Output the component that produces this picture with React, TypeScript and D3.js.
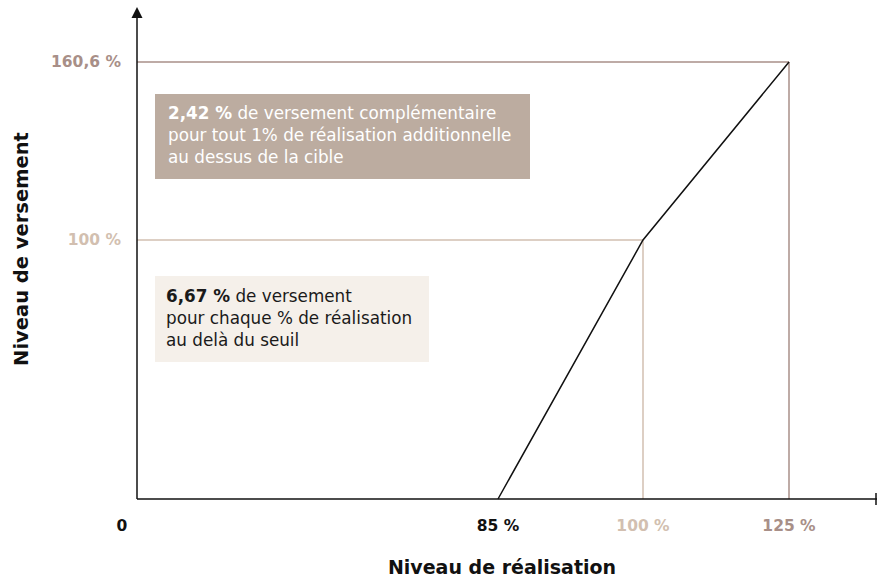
import React from "react";
import * as d3 from "d3";

const xTicks = [0, 85, 100, 125];
const xTickLabels = ["0", "85 %", "100 %", "125 %"];
const xTickColors = ["#111111", "#111111", "#d2bfb0", "#a88f88"];
const yRefs = [100, 160.6];
const yRefLabels = ["100 %", "160,6 %"];
const yRefColors = ["#d2bfb0", "#a88f88"];
const refXs = [100, 125];
const linePoints: [number, number][] = [
  [85, 0],
  [100, 100],
  [125, 160.6],
];
const box1Bold = "2,42 %";
const box1Lines = [
  " de versement complémentaire",
  "pour tout 1% de réalisation additionnelle",
  "au dessus de la cible",
];
const box2Bold = "6,67 %";
const box2Lines = [" de versement", "pour chaque % de réalisation", "au delà du seuil"];

const W = 877;
const H = 579;
const FONT = "'DejaVu Sans', sans-serif";

export default function App() {
  const x = d3.scaleLinear().domain([0, 85, 100, 125]).range([137, 498, 643, 789]);
  const y = d3.scaleLinear().domain([0, 100, 160.6]).range([499, 240, 62]);
  const line = d3
    .line<[number, number]>()
    .x((d) => x(d[0]))
    .y((d) => y(d[1]));
  const x0 = x(0);
  const y0 = y(0);

  return (
    <svg width={W} height={H} style={{ position: "absolute", left: 0, top: 0 }} fontFamily={FONT}>
      {yRefs.map((v, i) => (
        <g key={"r" + i}>
          <line x1={x0} x2={x(refXs[i])} y1={y(v)} y2={y(v)} stroke={yRefColors[i]} strokeWidth={1.5} />
          <line x1={x(refXs[i])} x2={x(refXs[i])} y1={y(v)} y2={y0} stroke={yRefColors[i]} strokeWidth={1.5} />
          <text x={121} y={y(v)} dy="0.35em" textAnchor="end" fontSize={15.5} fontWeight={700} fill={yRefColors[i]}>
            {yRefLabels[i]}
          </text>
        </g>
      ))}
      <rect x={155} y={94} width={375} height={85} fill="#bcaca0" />
      <text fontSize={16.8} fill="#ffffff">
        {box1Lines.map((l, i) => (
          <tspan key={i} x={168} y={119 + i * 22}>
            {i === 0 ? <tspan fontWeight={700}>{box1Bold}</tspan> : null}
            {l}
          </tspan>
        ))}
      </text>
      <rect x={155} y={276} width={274} height={86} fill="#f5f0ea" />
      <text fontSize={16.8} fill="#1a1a1a">
        {box2Lines.map((l, i) => (
          <tspan key={i} x={166} y={302 + i * 22}>
            {i === 0 ? <tspan fontWeight={700}>{box2Bold}</tspan> : null}
            {l}
          </tspan>
        ))}
      </text>
      <path d={line(linePoints) || ""} fill="none" stroke="#111111" strokeWidth={1.5} />
      <line x1={x0} x2={x0} y1={16} y2={y0} stroke="#111111" strokeWidth={1.5} />
      <path d={`M${x0},7 L${x0 - 5.5},18 L${x0 + 5.5},18 Z`} fill="#111111" />
      <line x1={x0} x2={W} y1={y0} y2={y0} stroke="#111111" strokeWidth={1.5} />
      <line x1={876} x2={876} y1={y0 - 6} y2={y0 + 6} stroke="#111111" strokeWidth={1.5} />
      {xTicks.map((t, i) => (
        <text
          key={"xt" + i}
          x={i === 0 ? 122 : x(t)}
          y={526}
          dy="0.35em"
          textAnchor="middle"
          fontSize={15.5}
          fontWeight={700}
          fill={xTickColors[i]}
        >
          {xTickLabels[i]}
        </text>
      ))}
      <text x={502} y={567} dy="0.35em" textAnchor="middle" fontSize={19} fontWeight={700} fill="#111111">
        Niveau de réalisation
      </text>
      <text
        transform={`translate(21,249) rotate(-90)`}
        dy="0.35em"
        textAnchor="middle"
        fontSize={19.5}
        fontWeight={700}
        fill="#111111"
      >
        Niveau de versement
      </text>
    </svg>
  );
}
